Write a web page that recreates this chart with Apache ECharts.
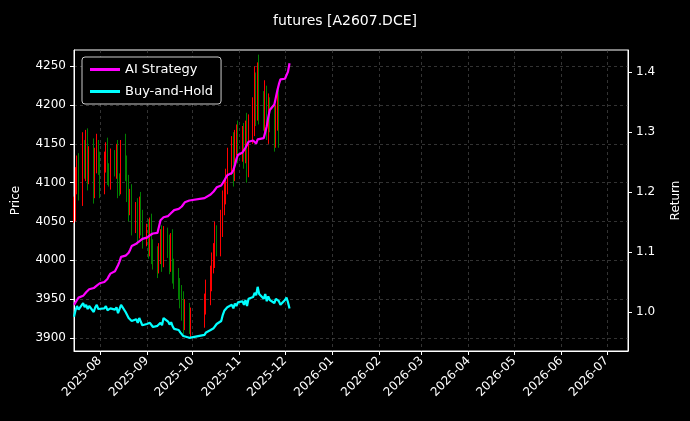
<!DOCTYPE html>
<html><head><meta charset="utf-8">
<script src="https://cdn.jsdelivr.net/npm/echarts@6/dist/echarts.min.js"></script>
<style>html,body{margin:0;background:#000}#c{width:690px;height:421px}</style>
</head><body><div id="c"></div>
<script>
// trading days Jul 15 2025 – Dec 4 2025 (weekdays, excl. Oct 1–8 holiday)
const startDate='2025-07-15', endDate='2025-12-04', holidayFrom='2025-10-01', holidayTo='2025-10-08';
const closes=[4070,4100,4120,4095,
4140,4120,4150,4110,4135,
4095,4130,4145,4120,4100,
4125,4140,4115,4105,4130,
4120,4135,4100,4095,4145,
4120,4090,4070,4080,4050,
4060,4040,4070,4050,4030,
4035,4020,4040,4015,4000,
3995,4010,4025,4005,4030,
4015,4000,4020,3990,3975,
3965,3950,3940,3925,3935,
3915,3925,
3945,3960,
3975,3995,4010,4030,4020,
4050,4070,4090,4100,4130,
4140,4120,4150,4160,4145,
4155,4140,4165,4125,4170,
4190,4220,4195,4240,4200,
4185,4210,4170,4195,4180,
4160,4185,4200,4170,4150,
4175,4190,4165,4125];
const wicks=[12,20,15,18, 25,15,18,20,12, 22,15,18,10,20, 15,12,18,10,14, 12,15,20,12,10,
18,15,20,12,18, 15,20,12,18,15, 12,18,15,20,12, 18,12,15,20,14, 12,18,15,20,12,
15,12,18,20,15, 10,14, 12,15, 18,15,12,20,15, 15,20,12,18,15, 20,25,18,15,20,
18,22,15,25,18, 20,30,22,15,25, 18,22,15,20,15, 20,15,18,25];
const strategy=[1.012,1.016,1.020,1.024,
1.027,1.030,1.033,1.036,1.038,
1.040,1.042,1.044,1.046,1.048,
1.050,1.052,1.055,1.060,1.064,
1.068,1.073,1.078,1.084,1.092,
1.094,1.096,1.099,1.104,1.110,
1.114,1.117,1.118,1.120,1.122,
1.124,1.126,1.128,1.130,1.131,
1.132,1.133,1.153,1.155,1.158,
1.160,1.163,1.165,1.168,1.170,
1.172,1.174,1.176,1.179,1.183,
1.186,1.188,
1.190,1.193,
1.196,1.198,1.201,1.204,1.208,
1.211,1.214,1.219,1.224,1.228,
1.232,1.237,1.245,1.255,1.262,
1.266,1.270,1.274,1.279,1.284,
1.286,1.288,1.281,1.288,1.290,
1.290,1.291,1.310,1.325,1.337,
1.346,1.358,1.370,1.380,1.388,
1.389,1.391,1.401,1.415];
const buyHold=[0.992,1.003,1.010,1.004,
1.015,1.008,1.012,1.005,1.010,
1.000,1.008,1.012,1.005,1.002,
1.006,1.010,1.003,1.000,1.006,
1.004,1.008,0.998,0.996,1.012,
1.000,0.995,0.990,0.993,0.985,
0.988,0.982,0.990,0.984,0.978,
0.980,0.978,0.982,0.979,0.975,
0.977,0.979,0.982,0.978,0.990,
0.984,0.979,0.983,0.976,0.972,
0.970,0.966,0.964,0.960,0.963,
0.957,0.959,
0.962,0.966,
0.970,0.968,0.973,0.976,0.980,
0.985,0.995,1.002,1.000,1.008,
1.012,1.006,1.014,1.010,1.016,
1.018,1.012,1.020,1.010,1.022,
1.025,1.032,1.028,1.042,1.030,
1.022,1.030,1.018,1.026,1.020,
1.015,1.022,1.025,1.018,1.012,
1.020,1.024,1.016,1.006];
const priceTicks=[3900,3950,4000,4050,4100,4150,4200,4250];
const returnTicks=[1.0,1.1,1.2,1.3,1.4];

const DAY=86400000;
const dates=[];
for(let t=Date.parse(startDate);t<=Date.parse(endDate);t+=DAY){
  const d=new Date(t), w=d.getUTCDay();
  if(w===0||w===6) continue;
  if(t>=Date.parse(holidayFrom)&&t<=Date.parse(holidayTo)) continue;
  dates.push(t);
}
const n=Math.min(dates.length,closes.length);
const candles=[],sLine=[],bLine=[];
for(let i=0;i<n;i++){
  const o=i===0?4060:closes[i-1], c=closes[i];
  candles.push([dates[i],o,c,Math.min(o,c)-wicks[i],Math.max(o,c)+wicks[i]]);
  sLine.push([dates[i],strategy[i]]);
  bLine.push([dates[i],buyHold[i]]);
}
const F='DejaVu Sans';
const gridLine={show:true,lineStyle:{color:'#555',type:[3,3],width:0.6}};
const chart=echarts.init(document.getElementById('c'));
chart.setOption({
  backgroundColor:'#000',animation:false,
  title:{text:'futures [A2607.DCE]',left:'center',top:9,textStyle:{color:'#fff',fontFamily:F,fontSize:14,fontWeight:'normal'}},
  grid:{left:74,right:61,top:50,bottom:70,show:true,borderColor:'#fff',borderWidth:1},
  legend:{data:['AI Strategy','Buy-and-Hold'],orient:'vertical',left:82,top:57,
    backgroundColor:'#000',borderColor:'#ccc',borderWidth:1,borderRadius:3,padding:[6,8],itemGap:9,
    itemWidth:30,itemHeight:3,icon:'rect',textStyle:{color:'#fff',fontFamily:F,fontSize:13}},
  xAxis:{type:'time',min:Date.parse('2025-07-15'),max:Date.parse('2026-07-15'),
    minInterval:28*DAY,maxInterval:31*DAY,
    axisLine:{lineStyle:{color:'#fff'}},axisTick:{lineStyle:{color:'#fff'},length:4},
    axisLabel:{color:'#fff',fontFamily:F,fontSize:12,rotate:45,formatter:'{yyyy}-{MM}',hideOverlap:false},
    splitLine:gridLine},
  yAxis:[
    {type:'value',min:3883,max:4271,name:'Price',nameLocation:'middle',nameGap:52,
     nameTextStyle:{color:'#fff',fontFamily:F,fontSize:12},
     axisLine:{show:true,lineStyle:{color:'#fff'}},axisTick:{show:true,length:4,customValues:priceTicks,lineStyle:{color:'#fff'}},
     axisLabel:{color:'#fff',fontFamily:F,fontSize:12,customValues:priceTicks,formatter:v=>String(v)},splitLine:gridLine},
    {type:'value',min:0.935,max:1.437,name:'Return',nameLocation:'middle',nameGap:42,
     nameTextStyle:{color:'#fff',fontFamily:F,fontSize:12},
     axisLine:{show:true,lineStyle:{color:'#fff'}},axisTick:{show:true,length:4,customValues:returnTicks,lineStyle:{color:'#fff'}},
     axisLabel:{color:'#fff',fontFamily:F,fontSize:12,customValues:returnTicks,formatter:v=>v.toFixed(1)},splitLine:{show:false}}
  ],
  series:[
    {type:'candlestick',name:'Price',data:candles,barWidth:1.2,
     itemStyle:{color:'#ff0000',color0:'#008000',borderColor:'#ff0000',borderColor0:'#008000',borderWidth:1}},
    {type:'line',name:'AI Strategy',yAxisIndex:1,data:sLine,showSymbol:false,lineStyle:{color:'#ff00ff',width:2.2},itemStyle:{color:'#ff00ff'}},
    {type:'line',name:'Buy-and-Hold',yAxisIndex:1,data:bLine,showSymbol:false,lineStyle:{color:'#00ffff',width:2.2},itemStyle:{color:'#00ffff'}}
  ]
});
</script></body></html>
